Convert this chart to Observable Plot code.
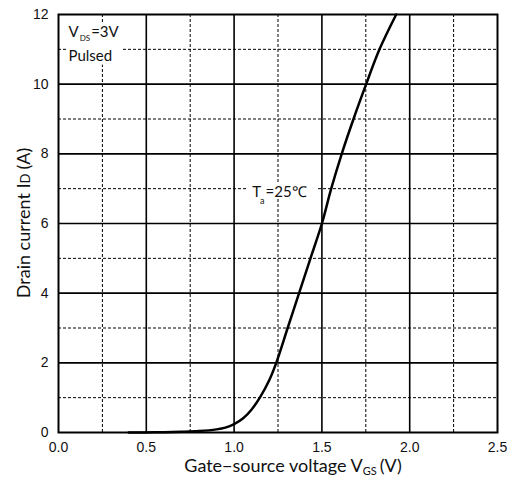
<!DOCTYPE html>
<html><head><meta charset="utf-8">
<script src="https://cdn.jsdelivr.net/npm/d3@7"></script>
<script src="https://cdn.jsdelivr.net/npm/@observablehq/plot@0.6"></script>
<style>body{margin:0;background:#fff}</style></head>
<body><div id="chart"></div>
<script>
// Data
const vgs = [0.40, 0.55, 0.70, 0.80, 0.90, 0.95, 1.00, 1.05, 1.10, 1.15, 1.20, 1.24, 1.305, 1.37, 1.435, 1.50, 1.553, 1.613, 1.680, 1.752, 1.828, 1.923];
const idA = [0.00, 0.005, 0.02, 0.04, 0.09, 0.14, 0.24, 0.40, 0.66, 1.03, 1.50, 2.00, 3.00, 4.00, 5.00, 6.00, 7.00, 8.00, 9.00, 10.00, 11.00, 12.00];
const xTicks = [0, 0.5, 1.0, 1.5, 2.0, 2.5];
const yTicks = [0, 2, 4, 6, 8, 10, 12];
const xMajor = [0.5, 1.0, 1.5, 2.0];
const xMinor = [0.25, 0.75, 1.25, 1.75, 2.25];
const yMajor = [2, 4, 6, 8, 10];
const yMinor = [1, 3, 5, 7, 9, 11];

const data = vgs.map((v, i) => ({vgs: v, id: idA[i]}));

const plot = Plot.plot({
  width: 514, height: 485,
  marginLeft: 58, marginRight: 17, marginTop: 14, marginBottom: 53,
  style: {fontFamily: "'Liberation Sans', Arial, sans-serif", fontSize: "14px", color: "#111", background: "#fff"},
  x: {domain: [0, 2.5], ticks: xTicks, tickFormat: d => d.toFixed(1), tickSize: 0, tickPadding: 10, label: null},
  y: {domain: [0, 12], ticks: yTicks, tickSize: 0, tickPadding: 10, label: null},
  marks: [
    Plot.ruleX(xMinor, {stroke: "#000", strokeWidth: 1, strokeDasharray: "3,2"}),
    Plot.ruleY(yMinor, {stroke: "#000", strokeWidth: 1, strokeDasharray: "3,2"}),
    Plot.ruleX(xMajor, {stroke: "#000", strokeWidth: 1.6}),
    Plot.ruleY(yMajor, {stroke: "#000", strokeWidth: 1.6}),
    Plot.frame({stroke: "#000", strokeWidth: 2}),
    Plot.line(data, {x: "vgs", y: "id", curve: "catmull-rom", stroke: "#000", strokeWidth: 2.5})
  ]
});
document.getElementById("chart").appendChild(plot);

const sx = plot.scale("x"), sy = plot.scale("y");
const svg = d3.select(plot);
const lf = "Lato, 'Open Sans', sans-serif";
const g = svg.append("g").attr("font-family", lf).attr("fill", "#111").attr("text-anchor", "start");

// T_a = 25°C annotation with white background
const tx = sx.apply(1.1), ty = sy.apply(7);
g.append("rect").attr("x", tx - 5).attr("y", ty - 6).attr("width", 70).attr("height", 16).attr("fill", "#fff");
const t1 = g.append("text").attr("x", tx + 1).attr("y", ty + 9).attr("font-size", 15);
t1.append("tspan").text("T");
t1.append("tspan").attr("font-size", 9).attr("dy", 7).attr("dx", -1).text("a");
t1.append("tspan").attr("font-size", 15).attr("dy", -7).attr("dx", 1).text("=25℃");

// V_DS = 3V, Pulsed
const ax = sx.apply(0.06), ay = sy.apply(11.35);
g.append("rect").attr("x", ax - 2).attr("y", ay - 14).attr("width", 56).attr("height", 42).attr("fill", "#fff");
const t2 = g.append("text").attr("x", ax).attr("y", ay).attr("font-size", 15);
t2.append("tspan").text("V");
t2.append("tspan").attr("font-size", 8).attr("dy", 4).attr("dx", 1).text("DS");
t2.append("tspan").attr("font-size", 15).attr("dy", -4).attr("dx", 1).text("=3V");
g.append("text").attr("x", ax).attr("y", ay + 24).attr("font-size", 15).text("Pulsed");

// Axis labels
const xl = g.append("text").attr("x", 293).attr("y", 472).attr("text-anchor", "middle").attr("font-size", 18);
xl.append("tspan").text("Gate\u2212source voltage V");
xl.append("tspan").attr("font-size", 11).attr("dy", 3).text("GS");
xl.append("tspan").attr("dy", -3).attr("dx", 3).text("(V)");

const yl = g.append("text").attr("transform", `translate(30,${(sy.apply(0) + sy.apply(12)) / 2}) rotate(-90)`)
  .attr("text-anchor", "middle").attr("font-size", 18);
yl.append("tspan").text("Drain current I");
yl.append("tspan").attr("font-size", 13).text("D");
yl.append("tspan").attr("dx", 4).text("(A)");
</script>
</body></html>
